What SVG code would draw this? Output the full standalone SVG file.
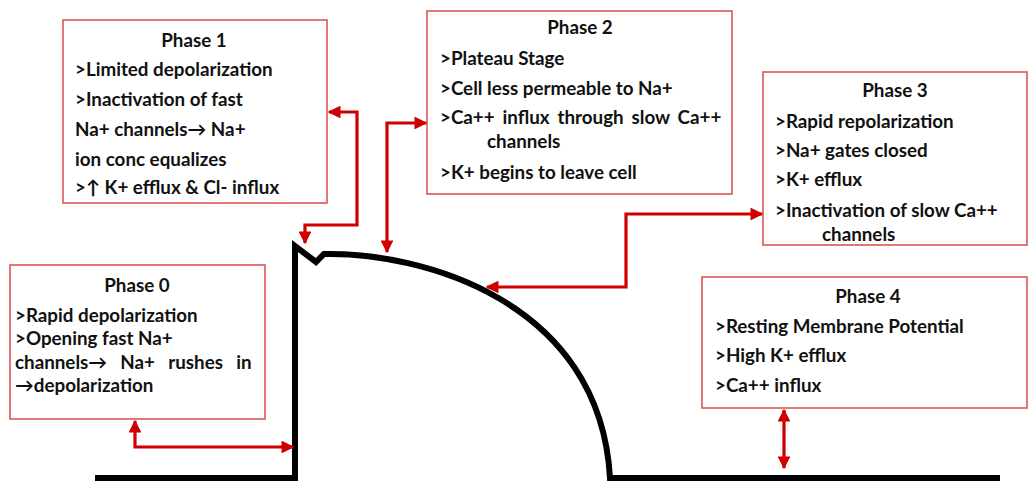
<svg xmlns="http://www.w3.org/2000/svg" width="1029" height="483" viewBox="0 0 1029 483">
<style>
.box{fill:#fff;stroke:#dd5555;stroke-width:1.6}
.t{font-family:Lato,"Liberation Sans",sans-serif;font-weight:bold;font-size:18.8px;fill:#111}
.c{text-anchor:middle}
.conn{fill:none;stroke:#d00000;stroke-width:3.2;stroke-linejoin:miter}
.curve{fill:none;stroke:#000;stroke-width:6;stroke-linejoin:miter}
</style>
<defs>
<marker id="ah" viewBox="0 0 10 10" refX="9" refY="5" markerWidth="4" markerHeight="4" orient="auto-start-reverse" markerUnits="strokeWidth">
<path d="M0,0 L10,5 L0,10 z" fill="#d00000"/>
</marker>
</defs>
<rect width="1029" height="483" fill="#fff"/>
<g id="curve">
<path class="curve" d="M95,478 H295 V246 L316,262 L324,254 C420,252 600,300 610,478 H1000"/>
</g>
<g id="phase1">
<rect class="box" x="63" y="20" width="264" height="183"/>
<text class="t c" x="194" y="47">Phase 1</text>
<text class="t" x="75" y="76">&gt;Limited depolarization</text>
<text class="t" x="75" y="106">&gt;Inactivation of  fast</text>
<text class="t" x="75" y="136">Na+ channels→ Na+</text>
<text class="t" x="75" y="166">ion conc equalizes</text>
<text class="t" x="75" y="194">&gt;↑ K+ efflux &amp; Cl- influx</text>
</g>
<g id="phase2">
<rect class="box" x="427" y="11" width="305" height="183"/>
<text class="t c" x="580" y="34">Phase 2</text>
<text class="t" x="440" y="65">&gt;Plateau Stage</text>
<text class="t" x="440" y="95">&gt;Cell less permeable to Na+</text>
<text class="t" x="440" y="124" word-spacing="3.3">&gt;Ca++ influx through slow Ca++</text>
<text class="t" x="487" y="148">channels</text>
<text class="t" x="440" y="179">&gt;K+ begins to leave cell</text>
</g>
<g id="phase3">
<rect class="box" x="763" y="72" width="264" height="173"/>
<text class="t c" x="895" y="97">Phase 3</text>
<text class="t" x="775" y="128">&gt;Rapid repolarization</text>
<text class="t" x="775" y="157">&gt;Na+ gates closed</text>
<text class="t" x="775" y="186">&gt;K+ efflux</text>
<text class="t" x="775" y="217">&gt;Inactivation of slow Ca++</text>
<text class="t" x="822" y="241">channels</text>
</g>
<g id="phase0">
<rect class="box" x="10" y="265" width="255" height="154"/>
<text class="t c" x="137" y="292">Phase 0</text>
<text class="t" x="15" y="322">&gt;Rapid depolarization</text>
<text class="t" x="15" y="345">&gt;Opening fast Na+</text>
<text class="t" x="15" y="369" word-spacing="8.7">channels→ Na+ rushes in</text>
<text class="t" x="15" y="392">→depolarization</text>
</g>
<g id="phase4">
<rect class="box" x="702" y="277" width="325" height="131"/>
<text class="t c" x="868" y="303">Phase 4</text>
<text class="t" x="715" y="333">&gt;Resting Membrane Potential</text>
<text class="t" x="715" y="362">&gt;High K+ efflux</text>
<text class="t" x="715" y="392">&gt;Ca++ influx</text>
</g>
<g id="connectors">
<path class="conn" d="M135,421 V447 H293" marker-start="url(#ah)" marker-end="url(#ah)"/>
<path class="conn" d="M329,112 H357 V225 H305 V243" marker-start="url(#ah)" marker-end="url(#ah)"/>
<path class="conn" d="M426,123 H387 V252" marker-start="url(#ah)" marker-end="url(#ah)"/>
<path class="conn" d="M487,287 H626 V214 H762" marker-start="url(#ah)" marker-end="url(#ah)"/>
<path class="conn" d="M784,410 V468" marker-start="url(#ah)" marker-end="url(#ah)"/>
</g>
</svg>
